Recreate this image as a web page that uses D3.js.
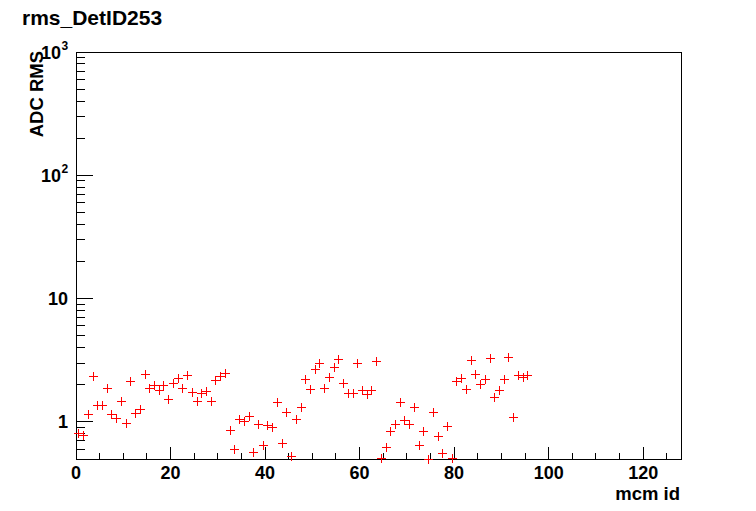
<!DOCTYPE html>
<html>
<head>
<meta charset="utf-8">
<script src="https://cdn.jsdelivr.net/npm/d3@7"></script>
<style>
  html, body { margin: 0; padding: 0; background: #fff; }
  svg { display: block; }
  text { font-family: "Liberation Sans", Arial, Helvetica, sans-serif; font-weight: bold; fill: #000; }
</style>
</head>
<body>
<svg id="chart" width="756" height="511"></svg>
<script>
const title = "rms_DetID253";
const xTitle = "mcm id";
const yTitle = "ADC RMS";
const xDomain = [0, 128];
const yDomain = [0.5, 1000];
const xTickValues = [0, 20, 40, 60, 80, 100, 120];
const yMajorTicks = [1, 10, 100, 1000];
// RMS per mcm id (bins 0..95)
const rmsValues = [
  0.81, 0.79, 1.16, 2.35, 1.36, 1.36, 1.89, 1.16, 1.08, 1.48,
  0.98, 2.13, 1.17, 1.28, 2.44, 1.89, 2.01, 1.83, 2.01, 1.52,
  2.05, 2.25, 1.87, 2.41, 1.75, 1.48, 1.70, 1.78, 1.48, 2.19,
  2.35, 2.47, 0.858, 0.598, 1.06, 1.015, 1.11, 0.573, 0.954, 0.645,
  0.937, 0.902, 1.45, 0.673, 1.20, 0.525, 1.06, 1.32, 2.24, 1.86,
  2.67, 2.98, 1.87, 2.30, 2.77, 3.21, 2.05, 1.70, 1.70, 2.98,
  1.83, 1.67, 1.83, 3.13, 0.505, 0.621, 0.847, 0.96, 1.45, 1.03,
  0.954, 1.31, 0.645, 0.847, 0.502, 1.20, 0.771, 0.561, 0.92, 0.506,
  2.15, 2.28, 1.86, 3.17, 2.44, 2.03, 2.21, 3.29, 1.58, 1.81,
  2.21, 3.34, 1.09, 2.38, 2.30, 2.41
];

const svg = d3.select("#chart");
const L = 76, R = 681, T = 52, B = 459;
const x = d3.scaleLinear().domain(xDomain).range([L, R]);
const y = d3.scaleLog().domain(yDomain).range([B, T]);

// frame
svg.append("rect").attr("x", L).attr("y", T).attr("width", R - L).attr("height", B - T)
  .attr("fill", "none").attr("stroke", "#000").attr("stroke-width", 1)
  .attr("shape-rendering", "crispEdges");

// x ticks (inside, upward)
const xMinor = d3.range(0, 128, 5);
const gx = svg.append("g").attr("shape-rendering", "crispEdges");
gx.selectAll("line.minor").data(xMinor).enter().append("line")
  .attr("x1", d => x(d)).attr("x2", d => x(d))
  .attr("y1", B).attr("y2", d => (d % 20 === 0) ? B - 12 : B - 6)
  .attr("stroke", "#000");
gx.selectAll("text").data(xTickValues).enter().append("text")
  .attr("x", d => x(d)).attr("y", 479)
  .attr("text-anchor", "middle").attr("font-size", 18)
  .text(d => d);

// y ticks (inside, rightward)
const yMinor = [];
[0.1, 1, 10, 100].forEach(dec => {
  for (let k = 2; k <= 9; k++) {
    const v = dec * k;
    if (v >= yDomain[0] && v < yDomain[1]) yMinor.push(v);
  }
});
const gy = svg.append("g").attr("shape-rendering", "crispEdges");
gy.selectAll("line.minor").data(yMinor).enter().append("line")
  .attr("x1", L).attr("x2", L + 9)
  .attr("y1", d => y(d)).attr("y2", d => y(d))
  .attr("stroke", "#000");
gy.selectAll("line.major").data(yMajorTicks).enter().append("line")
  .attr("x1", L).attr("x2", L + 17)
  .attr("y1", d => y(d)).attr("y2", d => y(d))
  .attr("stroke", "#000");

// y tick labels
const yLab = svg.append("g");
yMajorTicks.forEach(v => {
  const e = Math.round(Math.log10(v));
  if (e <= 1) {
    yLab.append("text").attr("x", 68).attr("y", y(v) + 6.5)
      .attr("text-anchor", "end").attr("font-size", 18).text(v);
  } else {
    yLab.append("text").attr("x", 61).attr("y", y(v) + 6.5)
      .attr("text-anchor", "end").attr("font-size", 18).text("10");
    yLab.append("text").attr("x", 61.5).attr("y", y(v) - 2)
      .attr("text-anchor", "start").attr("font-size", 12).text(e);
  }
});

// markers
const s = 4.5;
const gm = svg.append("g").attr("stroke", "#ff0000").attr("stroke-width", 1).attr("shape-rendering", "crispEdges");
const pts = gm.selectAll("g").data(rmsValues).enter().append("g")
  .attr("transform", (d, i) => `translate(${Math.round(x(i + 0.5))},${Math.round(y(d))})`);
pts.append("line").attr("x1", -s).attr("x2", s).attr("y1", 0.5).attr("y2", 0.5);
pts.append("line").attr("x1", 0.5).attr("x2", 0.5).attr("y1", -s).attr("y2", s);

// titles
svg.append("text").attr("x", 22).attr("y", 25).attr("font-size", 21).text(title);
svg.append("text").attr("x", 680).attr("y", 500).attr("text-anchor", "end").attr("font-size", 18.5).text(xTitle);
svg.append("text").attr("transform", `translate(43,${T - 1}) rotate(-90)`)
  .attr("text-anchor", "end").attr("font-size", 18.5).text(yTitle);
</script>
</body>
</html>
